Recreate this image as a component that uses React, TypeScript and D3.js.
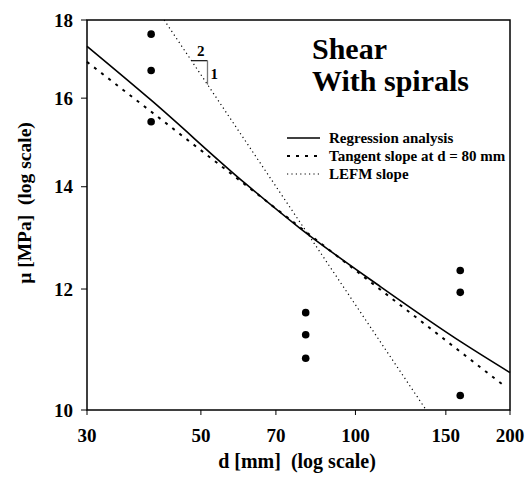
import * as d3 from 'd3'
import React from 'react'

// specimen data (d in mm, nominal strength mu in MPa)
const specimenD = [40, 40, 40, 80, 80, 80, 160, 160, 160]
const specimenMu = [17.62, 16.68, 15.44, 11.58, 11.2, 10.81, 12.34, 11.94, 10.22]

// regression curve
const regD = [30, 40, 61, 78, 112, 162, 200]
const regMu = [17.3, 15.95, 14.07, 13.15, 12.04, 11.06, 10.58]

// tangent at d = 80 mm
const tanD = [30, 195]
const tanMu = [16.9, 10.37]

// LEFM slope (-1/2)
const lefmD = [42.4, 137.3]
const lefmMu = [18, 10]

// slope triangle on the LEFM line
const triD = [48, 51.5, 51.5]
const triMu = [16.93, 16.93, 16.33]

const xTicks = [30, 50, 70, 100, 150, 200]
const yTicks = [10, 12, 14, 16, 18]

const legendLabels = ['Regression analysis', 'Tangent slope at d = 80 mm', 'LEFM slope']

const W = 532
const H = 478
const margin = { top: 20, right: 22, bottom: 68, left: 87 }
const font = '"Liberation Serif", "Times New Roman", serif'

export default function App() {
  const x = d3.scaleLog().domain([30, 200]).range([margin.left, W - margin.right])
  const y = d3.scaleLog().domain([10, 18]).range([H - margin.bottom, margin.top])

  const line = d3.line<[number, number]>().x(d => x(d[0])).y(d => y(d[1]))
  const curve = d3.line<[number, number]>().x(d => x(d[0])).y(d => y(d[1])).curve(d3.curveMonotoneX)

  const reg = regD.map((d, i) => [d, regMu[i]] as [number, number])
  const tan = tanD.map((d, i) => [d, tanMu[i]] as [number, number])
  const lefm = lefmD.map((d, i) => [d, lefmMu[i]] as [number, number])
  const tri = triD.map((d, i) => [d, triMu[i]] as [number, number])

  const x0 = margin.left
  const x1 = W - margin.right
  const y0 = H - margin.bottom
  const y1 = margin.top

  const styles = [
    { dash: null, width: 1.6 },
    { dash: '3,6', width: 2 },
    { dash: '1.2,3.2', width: 1.2 },
  ]

  return (
    <svg width={W} height={H} style={{ position: 'absolute', left: 0, top: 0, background: '#fff' }}
      fontFamily={font} fontWeight="bold">
      <rect x={x0} y={y1} width={x1 - x0} height={y0 - y1} fill="none" stroke="#000" strokeWidth={1.5} />

      {xTicks.map(t => (
        <g key={'x' + t}>
          <line x1={x(t)} x2={x(t)} y1={y0} y2={y0 + 5} stroke="#000" />
          <text x={x(t)} y={y0 + 32} textAnchor="middle" fontSize={19}>{t}</text>
        </g>
      ))}
      {yTicks.map(t => (
        <g key={'y' + t}>
          <line x1={x0 - 6} x2={x0} y1={y(t)} y2={y(t)} stroke="#000" />
          <text x={x0 - 14} y={y(t) + 6.5} textAnchor="end" fontSize={19}>{t}</text>
        </g>
      ))}

      <text x={297} y={468} textAnchor="middle" fontSize={20} xmlSpace="preserve">d [mm]  (log scale)</text>
      <text transform={`translate(31,203) rotate(-90)`} textAnchor="middle" fontSize={19.5} xmlSpace="preserve">μ [MPa]  (log scale)</text>

      <path d={curve(reg) ?? ''} fill="none" stroke="#000" strokeWidth={1.6} />
      <path d={line(tan) ?? ''} fill="none" stroke="#000" strokeWidth={2} strokeDasharray="3,6" />
      <path d={line(lefm) ?? ''} fill="none" stroke="#000" strokeWidth={1.2} strokeDasharray="1.2,3.2" />

      <path d={line(tri.slice(0, 2)) ?? ''} fill="none" stroke="#222" strokeWidth={1.3} />
      <path d={line(tri.slice(1)) ?? ''} fill="none" stroke="#777" strokeWidth={1.3} />
      <text x={(x(triD[0]) + x(triD[1])) / 2 + 1} y={y(triMu[0]) - 5} textAnchor="middle" fontSize={15}>2</text>
      <text x={x(triD[1]) + 3} y={(y(triMu[1]) + y(triMu[2])) / 2 + 6} fontSize={15}>1</text>

      {specimenD.map((d, i) => (
        <circle key={i} cx={x(d)} cy={y(specimenMu[i])} r={3.8} fill="#000" />
      ))}

      <text x={312} y={59} fontSize={30}>
        <tspan x={312}>Shear</tspan>
        <tspan x={312} dy={32}>With spirals</tspan>
      </text>

      {legendLabels.map((l, i) => (
        <g key={l} transform={`translate(287,${138 + i * 18})`}>
          <line x1={0} x2={33} y1={0} y2={0} stroke="#000" strokeWidth={styles[i].width}
            strokeDasharray={styles[i].dash ?? undefined} />
          <text x={42} y={5} fontSize={15}>{l}</text>
        </g>
      ))}
    </svg>
  )
}
